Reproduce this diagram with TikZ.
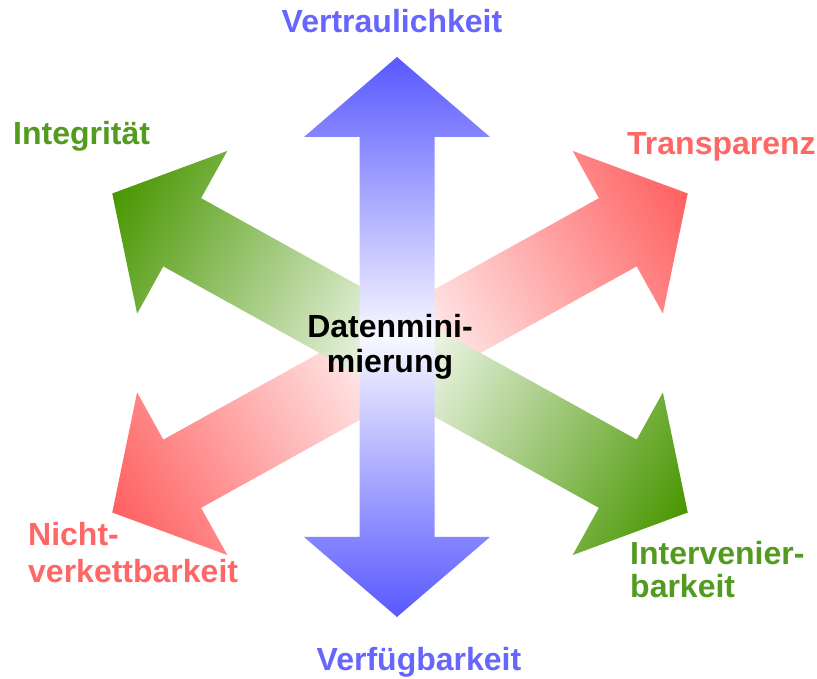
\documentclass[tikz,border=0pt]{standalone}
\usepackage{fontspec}
\setmainfont{Liberation Sans}
\definecolor{cblue}{RGB}{88,88,255}
\definecolor{tblue}{RGB}{102,102,255}
\definecolor{cgreen}{RGB}{72,150,0}
\definecolor{tgreen}{RGB}{82,155,30}
\definecolor{cred}{RGB}{255,96,96}
\definecolor{tred}{RGB}{255,102,102}
% #1 centre, #2 angle, #3 length, #4 colour, #5 shaft half width
\newcommand\myhalfarrow[5]{%
  \begin{scope}[transform canvas={shift={#1},rotate=#2}]
    \shade[left color=#4!4, right color=#4]
      (0,#5) -- ({#3-80},#5) -- ({#3-80},93) -- (#3,0) -- ({#3-80},-93)
      -- ({#3-80},-#5) -- (0,-#5) -- cycle;
  \end{scope}}
\begin{document}
\begin{tikzpicture}[x=1pt,y=1pt,
  lbl/.style={font=\fontsize{32}{36}\selectfont\bfseries, inner sep=0pt}]
\useasboundingbox (0,0) rectangle (817,679);
\fill[white] (0,0) rectangle (817,679);
% red diagonal (lower-left to upper-right)
\myhalfarrow{(400,326)}{29}{329}{cred}{39}
\myhalfarrow{(400,326)}{209}{329}{cred}{39}
% green diagonal (upper-left to lower-right)
\myhalfarrow{(400,326)}{151}{329}{cgreen}{39}
\myhalfarrow{(400,326)}{-29}{329}{cgreen}{39}
% blue vertical
\myhalfarrow{(397,342)}{90}{280}{cblue}{37.5}
\myhalfarrow{(397,342)}{-90}{280}{cblue}{37.5}
% labels
\node[lbl, text=tblue, anchor=base] (vertr) at (392,646) {Vertraulichkeit};
\node[lbl, text=tgreen, anchor=base west] (integ) at (13,534) {Integrität};
\node[lbl, text=tred, anchor=base west] (transp) at (627,524) {Transparenz};
\node[lbl, anchor=base] (dm1) at (390,341) {Datenmini-};
\node[lbl, anchor=base] (dm2) at (390,306) {mierung};
\node[lbl, text=tred, anchor=base west] (nv1) at (28,133) {Nicht-};
\node[lbl, text=tred, anchor=base west] (nv2) at (28,96) {verkettbarkeit};
\node[lbl, text=tgreen, anchor=base west] (iv1) at (630,114) {Intervenier-};
\node[lbl, text=tgreen, anchor=base west] (iv2) at (630,81) {barkeit};
\node[lbl, text=tblue, anchor=base] (verf) at (419,8) {Verfügbarkeit};
\end{tikzpicture}
\end{document}
